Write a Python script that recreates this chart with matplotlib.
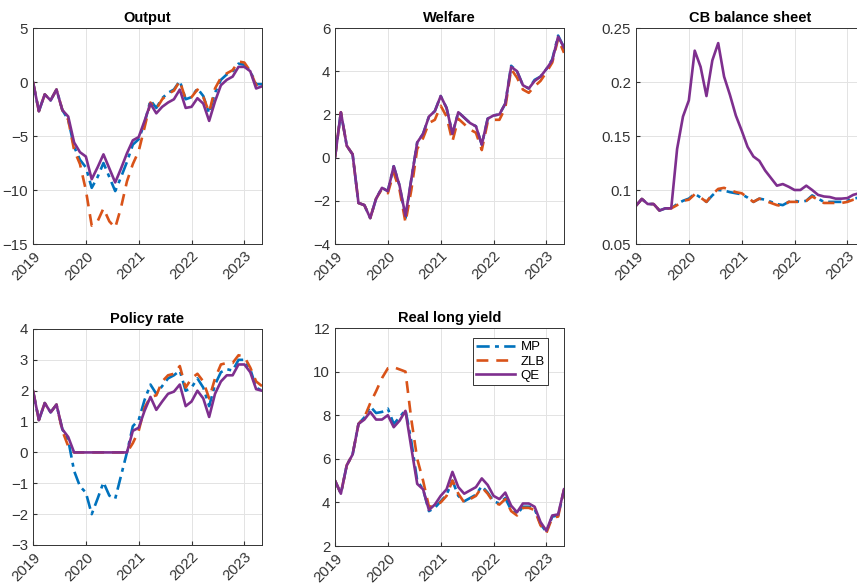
import numpy as np
import matplotlib
matplotlib.use('Agg')
import matplotlib.pyplot as plt

# time axis: 40 observations, 9 per year starting 2019
t = 2019 + np.arange(40) / 9

# Output
out_mp = [0, -2.7, -1.15, -1.7, -0.7, -2.6, -3.5, -6.0, -7.2, -7.9,
          -9.8, -8.8, -7.5, -8.8, -10.1, -8.8, -7.4, -5.8, -5.3, -3.8,
          -1.7, -2.4, -1.5, -1.0, -0.7, 0.1, -1.6, -1.4, -0.6, -1.3,
          -2.9, -1.0, 0.2, 0.7, 1.0, 1.7, 1.6, 1.0, -0.2, -0.2]
out_zlb = [0, -2.7, -1.15, -1.7, -0.7, -2.6, -3.5, -6.3, -7.6, -10.0,
           -13.3, -12.9, -11.7, -12.9, -13.5, -11.6, -9.2, -7.6, -6.4, -4.2,
           -1.9, -2.5, -1.6, -1.1, -0.8, 0.1, -1.6, -1.4, -0.7, -1.4,
           -2.8, -0.6, 0.4, 0.8, 1.1, 1.9, 1.8, 1.0, -0.3, -0.1]
out_qe = [0, -2.7, -1.15, -1.7, -0.7, -2.6, -3.2, -5.6, -6.5, -6.9,
          -9.0, -7.9, -6.7, -8.0, -9.3, -8.0, -6.6, -5.4, -5.1, -3.6,
          -2.0, -2.9, -2.3, -1.9, -1.6, -0.7, -2.4, -2.3, -1.5, -2.0,
          -3.6, -1.8, -0.3, 0.2, 0.5, 1.4, 1.4, 1.0, -0.6, -0.4]

# Welfare
wel_mp = [0, 2.1, 0.55, 0.15, -2.1, -2.2, -2.8, -1.9, -1.4, -1.55,
          -0.4, -1.3, -2.8, -1.0, 0.7, 1.1, 1.9, 2.15, 2.85, 2.3,
          1.1, 2.1, 1.85, 1.6, 1.45, 0.6, 1.8, 1.95, 2.0, 2.5,
          4.25, 4.0, 3.35, 3.2, 3.6, 3.75, 4.1, 4.55, 5.65, 5.1]
wel_zlb = [0, 2.1, 0.55, 0.15, -2.1, -2.2, -2.8, -1.9, -1.45, -1.65,
           -0.7, -1.5, -3.0, -1.5, 0.4, 0.9, 1.6, 1.75, 2.4, 1.9,
           0.75, 1.8, 1.55, 1.3, 1.15, 0.35, 1.65, 1.75, 1.75, 2.3,
           4.1, 3.7, 3.15, 3.0, 3.3, 3.55, 3.95, 4.4, 5.5, 4.85]
wel_qe = [0, 2.1, 0.55, 0.15, -2.1, -2.2, -2.8, -1.9, -1.4, -1.55,
          -0.4, -1.3, -2.7, -1.0, 0.7, 1.1, 1.9, 2.15, 2.85, 2.3,
          1.1, 2.1, 1.85, 1.6, 1.45, 0.6, 1.8, 1.95, 2.0, 2.5,
          4.2, 4.0, 3.35, 3.2, 3.55, 3.75, 4.1, 4.5, 5.6, 5.1]

# CB balance sheet
cb_mp = [0.0855, 0.0917, 0.087, 0.087, 0.081, 0.083, 0.083, 0.087, 0.090, 0.092,
         0.0965, 0.093, 0.089, 0.095, 0.100, 0.0995, 0.098, 0.097, 0.096, 0.093,
         0.089, 0.092, 0.091, 0.089, 0.087, 0.086, 0.089, 0.090, 0.089, 0.090,
         0.095, 0.092, 0.089, 0.089, 0.089, 0.089, 0.090, 0.092, 0.093, 0.094]
cb_zlb = [0.0855, 0.0917, 0.087, 0.087, 0.081, 0.083, 0.083, 0.086, 0.090, 0.091,
          0.096, 0.093, 0.089, 0.096, 0.101, 0.102, 0.100, 0.098, 0.097, 0.093,
          0.089, 0.092, 0.090, 0.088, 0.086, 0.085, 0.089, 0.089, 0.089, 0.090,
          0.094, 0.091, 0.088, 0.088, 0.088, 0.088, 0.089, 0.091, 0.092, 0.093]
cb_qe = [0.0855, 0.0917, 0.087, 0.087, 0.081, 0.083, 0.083, 0.138, 0.168, 0.183,
         0.229, 0.214, 0.187, 0.220, 0.236, 0.205, 0.188, 0.169, 0.155, 0.140,
         0.131, 0.127, 0.118, 0.111, 0.104, 0.1055, 0.103, 0.100, 0.100, 0.104,
         0.100, 0.0955, 0.094, 0.0935, 0.092, 0.092, 0.0925, 0.0955, 0.097, 0.098]

# Policy rate
pr_mp = [2.0, 1.05, 1.6, 1.3, 1.55, 0.75, 0.4, -0.6, -1.1, -1.3,
         -2.0, -1.5, -0.97, -1.4, -1.5, -0.75, 0.0, 0.85, 1.05, 1.7,
         2.2, 1.9, 2.15, 2.4, 2.5, 2.65, 2.0, 2.1, 2.4, 2.1,
         1.5, 2.2, 2.6, 2.7, 2.65, 3.0, 3.0, 2.7, 2.1, 2.0]
pr_zlb = [2.0, 1.05, 1.6, 1.3, 1.55, 0.7, 0.2, 0.0, 0.0, 0.0,
          0.0, 0.0, 0.0, 0.0, 0.0, 0.0, 0.0, 0.3, 0.7, 1.45,
          1.8, 1.85, 2.3, 2.5, 2.55, 2.8, 2.1, 2.4, 2.55, 2.3,
          1.75, 2.4, 2.85, 2.9, 2.9, 3.15, 3.1, 2.75, 2.3, 2.15]
pr_qe = [2.0, 1.05, 1.6, 1.3, 1.55, 0.75, 0.5, 0.0, 0.0, 0.0,
         0.0, 0.0, 0.0, 0.0, 0.0, 0.0, 0.0, 0.7, 0.8, 1.35,
         1.8, 1.38, 1.65, 1.9, 1.97, 2.2, 1.5, 1.65, 2.0, 1.75,
         1.15, 1.9, 2.3, 2.5, 2.5, 2.85, 2.85, 2.6, 2.05, 2.0]

# Real long yield
ry_mp = [5.0, 4.4, 5.7, 6.2, 7.6, 7.9, 8.4, 8.1, 8.15, 8.3,
         7.6, 7.9, 8.25, 6.8, 5.0, 4.6, 3.6, 3.75, 4.05, 4.35,
         5.0, 4.3, 4.05, 4.2, 4.35, 4.75, 4.45, 4.05, 3.95, 4.2,
         3.65, 3.45, 3.8, 3.8, 3.7, 3.0, 2.65, 3.35, 3.4, 4.55]
ry_zlb = [5.0, 4.4, 5.7, 6.2, 7.6, 7.9, 8.55, 9.1, 9.7, 10.15,
          10.2, 10.1, 10.0, 7.8, 6.0, 5.0, 3.8, 3.85, 4.0, 4.3,
          5.0, 4.4, 4.0, 4.15, 4.3, 4.7, 4.4, 4.0, 3.9, 4.15,
          3.6, 3.4, 3.75, 3.75, 3.65, 2.95, 2.6, 3.3, 3.35, 4.6]
ry_qe = [5.0, 4.4, 5.7, 6.2, 7.6, 7.8, 8.15, 7.8, 7.8, 8.0,
         7.45, 7.75, 8.2, 6.5, 4.85, 4.6, 3.65, 3.9, 4.3, 4.6,
         5.4, 4.7, 4.4, 4.55, 4.7, 5.1, 4.8, 4.3, 4.15, 4.45,
         3.85, 3.55, 3.95, 3.95, 3.8, 3.1, 2.7, 3.4, 3.45, 4.6]

years = [2019, 2020, 2021, 2022, 2023]
c_mp, c_zlb, c_qe = '#0072BD', '#D95319', '#7E2F8E'

plt.rcParams['font.family'] = ['Liberation Sans', 'DejaVu Sans']

W, H = 857, 583
fig = plt.figure(figsize=(W / 100, H / 100), dpi=100)


def make_ax(left, top, right, bottom):
    return fig.add_axes([left / W, 1 - bottom / H, (right - left) / W, (bottom - top) / H])


panels = [
    ('Output', (33, 28, 262, 244), out_mp, out_zlb, out_qe, (-15, 5), [-15, -10, -5, 0, 5], None),
    ('Welfare', (335, 28, 564, 244), wel_mp, wel_zlb, wel_qe, (-4, 6), [-4, -2, 0, 2, 4, 6], None),
    ('CB balance sheet', (636, 28, 865, 244), cb_mp, cb_zlb, cb_qe, (0.05, 0.25),
     [0.05, 0.1, 0.15, 0.2, 0.25], ['0.05', '0.1', '0.15', '0.2', '0.25']),
    ('Policy rate', (33, 329, 262, 545), pr_mp, pr_zlb, pr_qe, (-3, 4), list(range(-3, 5)), None),
    ('Real long yield', (335, 328, 564, 546), ry_mp, ry_zlb, ry_qe, (2, 12), [2, 4, 6, 8, 10, 12], None),
]

for title, box, mp, zlb, qe, ylim, yt, ytl in panels:
    ax = make_ax(*box)
    ax.plot(t, mp, '-.', color=c_mp, lw=1.9, label='MP', dashes=(5, 2, 1.5, 2))
    ax.plot(t, zlb, '--', color=c_zlb, lw=1.9, label='ZLB', dashes=(4.5, 3))
    ax.plot(t, qe, '-', color=c_qe, lw=1.9, label='QE')
    ax.set_xlim(2019, t[-1])
    ax.set_ylim(*ylim)
    ax.set_yticks(yt)
    if ytl:
        ax.set_yticklabels(ytl)
    ax.set_xticks(years)
    ax.set_xticklabels([str(y) for y in years], rotation=45, ha='right', rotation_mode='anchor')
    ax.set_title(title, fontsize=10.5, fontweight='bold', pad=4)
    ax.grid(True, color='#e3e3e3', lw=0.7)
    ax.tick_params(direction='in', labelsize=10.8, colors='#333333', length=3)
    for s in ax.spines.values():
        s.set_color('#333333')
        s.set_linewidth(0.7)
    if title == 'Real long yield':
        leg = ax.legend(loc='upper right', fontsize=9.5, handlelength=3.0, fancybox=False,
                        framealpha=1, edgecolor='#333333', borderpad=0.25, labelspacing=0.15,
                        handletextpad=0.4, bbox_to_anchor=(0.96, 0.985))
        leg.get_frame().set_linewidth(0.7)

plt.savefig('out.png', dpi=100)
